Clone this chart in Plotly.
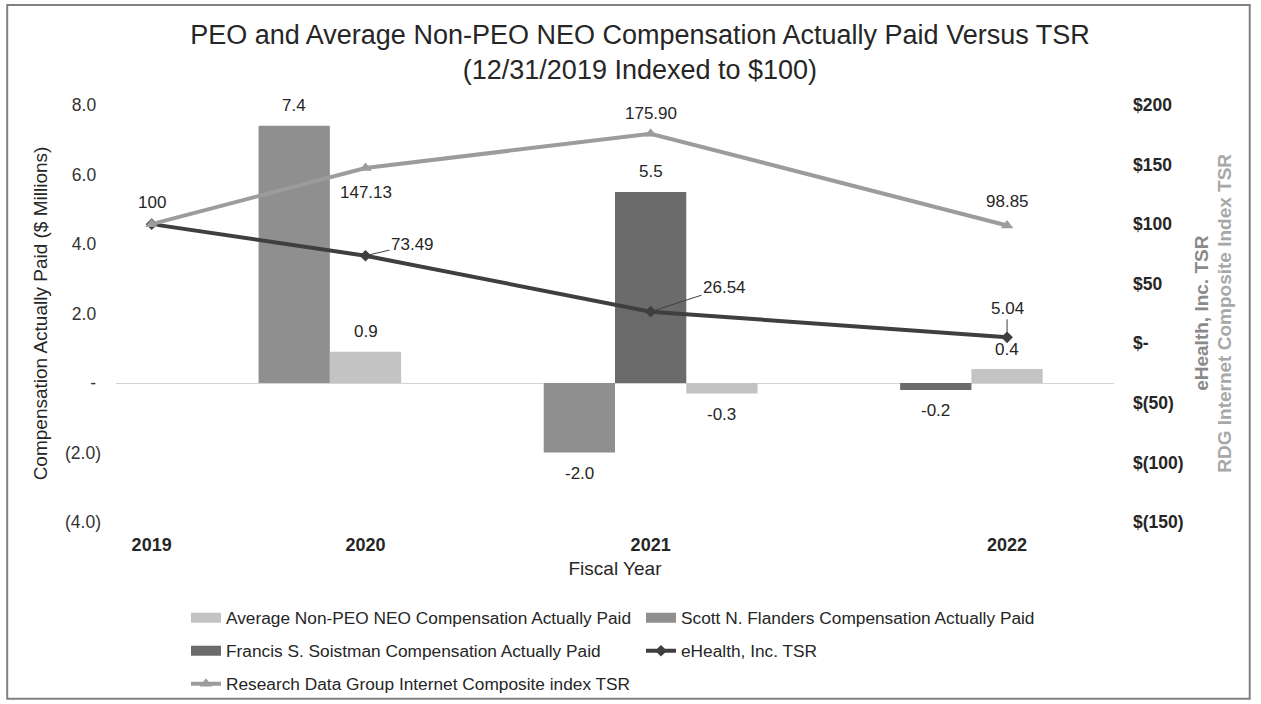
import plotly.graph_objects as go

# ---------------- data ----------------
fiscal_years = ["2019", "2020", "2021", "2022"]
# category slot of each fiscal year on the 14-slot category axis of the original chart
year_slot = [0, 3, 7, 12]

flanders_slot = [2, 6]
flanders_vals = [7.4, -2.0]

soistman_slot = [7, 11]
soistman_vals = [5.5, -0.2]

avg_slot = [3, 8, 12]
avg_vals = [0.9, -0.3, 0.4]

ehealth_tsr = [100, 73.49, 26.54, 5.04]
rdg_tsr = [100, 147.13, 175.90, 98.85]

left_tickvals = [-4, -2, 0, 2, 4, 6, 8]
left_ticktext = ["(4.0)", "(2.0)", "-\u00a0", "2.0\u00a0", "4.0\u00a0", "6.0\u00a0", "8.0\u00a0"]
right_tickvals = [-150, -100, -50, 0, 50, 100, 150, 200]
right_ticktext = ["$(150)", "$(100)", "$(50)", "$-", "$50", "$100", "$150", "$200"]

# ---------------- style ----------------
FONT = "Liberation Sans, Arial, sans-serif"
C_AVG = "#c3c3c3"
C_FLA = "#8f8f8f"
C_SOI = "#6b6b6b"
C_EH = "#3f3f3f"
C_RDG = "#9c9c9c"
TXT = "#262626"

fig = go.Figure()

def add_bars(slots, vals, color):
    fig.add_trace(go.Bar(x=slots, y=vals, width=1, marker=dict(color=color, line=dict(width=0)),
                         showlegend=False, yaxis="y", hoverinfo="y"))

add_bars(flanders_slot, flanders_vals, C_FLA)
add_bars(soistman_slot, soistman_vals, C_SOI)
add_bars(avg_slot, avg_vals, C_AVG)

fig.add_trace(go.Scatter(x=year_slot, y=ehealth_tsr, mode="lines+markers", yaxis="y2",
                         line=dict(color=C_EH, width=4), marker=dict(symbol="diamond", size=9, color=C_EH),
                         name="eHealth, Inc. TSR", legend="legend4"))
fig.add_trace(go.Scatter(x=year_slot, y=rdg_tsr, mode="lines+markers", yaxis="y2",
                         line=dict(color=C_RDG, width=4), marker=dict(symbol="triangle-up", size=11, color=C_RDG),
                         name="Research Data Group Internet Composite index TSR", legend="legend5"))

# legend proxies for bar series (wide swatches)
for name, color, lg in [("Average Non-PEO NEO Compensation Actually Paid", C_AVG, "legend"),
                        ("Scott N. Flanders Compensation Actually Paid", C_FLA, "legend2"),
                        ("Francis S. Soistman Compensation Actually Paid", C_SOI, "legend3")]:
    fig.add_trace(go.Scatter(x=[None], y=[None], mode="lines", line=dict(color=color, width=10),
                             name=name, legend=lg))

annotations = []
# bar value labels
for slots, vals in [(flanders_slot, flanders_vals), (soistman_slot, soistman_vals), (avg_slot, avg_vals)]:
    for s, v in zip(slots, vals):
        annotations.append(dict(x=s, y=v, xref="x", yref="y", text=f"{v:.1f}", showarrow=False,
                                yshift=20 if v >= 0 else -21, font=dict(size=17, color=TXT, family=FONT)))

# line labels: (series, index, style)
eh_label_style = [dict(yshift=22), dict(arrow=(47, -11)), dict(arrow=(74, -24)), dict(arrow=(0, -29))]
rdg_label_style = [None, dict(yshift=-25), dict(yshift=20), dict(yshift=24)]

def fmt(v):
    return f"{v:.0f}" if float(v).is_integer() else f"{v:.2f}"

for vals, styles in [(ehealth_tsr, eh_label_style), (rdg_tsr, rdg_label_style)]:
    for i, (v, st) in enumerate(zip(vals, styles)):
        if st is None:
            continue
        a = dict(x=year_slot[i], y=v, xref="x", yref="y2", text=fmt(v),
                 font=dict(size=17, color=TXT, family=FONT))
        if "arrow" in st:
            a.update(showarrow=True, arrowhead=0, arrowwidth=1, arrowcolor="#404040",
                     ax=st["arrow"][0], ay=st["arrow"][1], standoff=3)
        else:
            a.update(showarrow=False, yshift=st["yshift"])
        annotations.append(a)

# right axis titles
annotations.append(dict(xref="paper", yref="paper", x=1.1, y=0.5, text="<b>eHealth, Inc. TSR</b>",
                        textangle=-90, showarrow=False, font=dict(size=19, color="#8a8a8a", family=FONT)))
annotations.append(dict(xref="paper", yref="paper", x=1.123, y=0.5, text="<b>RDG Internet Composite Index TSR</b>",
                        textangle=-90, showarrow=False, font=dict(size=19, color="#a8a8a8", family=FONT)))

legend_common = dict(orientation="h", xref="container", yref="container", xanchor="left", yanchor="middle",
                     bgcolor="rgba(0,0,0,0)", font=dict(size=17.3, color=TXT, family=FONT), borderwidth=0)

fig.update_layout(
    width=1261, height=704,
    margin=dict(l=116, r=147, t=105, b=182),
    paper_bgcolor="white", plot_bgcolor="white",
    font=dict(family=FONT, color=TXT),
    barmode="overlay",
    title=dict(text="PEO and Average Non-PEO NEO Compensation Actually Paid Versus TSR<br>(12/31/2019 Indexed to $100)",
               x=0.5075, xanchor="center", xref="container", y=0.937, yanchor="top", yref="container",
               font=dict(size=27, color=TXT, family=FONT)),
    xaxis=dict(range=[-0.5, 13.5], tickvals=year_slot, ticktext=fiscal_years, showgrid=False, zeroline=False,
               showline=False, ticks="", tickfont=dict(size=18, color=TXT, family=FONT), ticklabelstandoff=10,
               title=dict(text="Fiscal Year", font=dict(size=19, color=TXT, family=FONT), standoff=7)),
    yaxis=dict(range=[-4, 8], tickvals=left_tickvals, ticktext=left_ticktext, showgrid=False,
               zeroline=True, zerolinecolor="#d4d4d4", zerolinewidth=1, showline=False, ticks="",
               tickfont=dict(size=17.5, color="#333333", family=FONT), ticklabelstandoff=14,
               title=dict(text="Compensation Actually Paid ($ Millions)", font=dict(size=19, color=TXT, family=FONT),
                          standoff=12)),
    yaxis2=dict(range=[-150, 200], tickvals=right_tickvals, ticktext=right_ticktext, overlaying="y", side="right",
                showgrid=False, zeroline=False, showline=False, ticks="",
                tickfont=dict(size=17.5, color=TXT, family=FONT, weight="bold"), ticklabelstandoff=18),
    legend=dict(legend_common, x=186 / 1261, y=1 - 618 / 704),
    legend2=dict(legend_common, x=641 / 1261, y=1 - 618 / 704),
    legend3=dict(legend_common, x=186 / 1261, y=1 - 651 / 704),
    legend4=dict(legend_common, x=641 / 1261, y=1 - 651 / 704),
    legend5=dict(legend_common, x=186 / 1261, y=1 - 684 / 704),
    annotations=annotations,
    shapes=[dict(type="rect", xref="paper", yref="paper", x0=-0.109, x1=1.136, y0=-0.424, y1=1.24,
                 line=dict(color="#808080", width=2), fillcolor="rgba(0,0,0,0)", layer="below")],
)
fig.update_xaxes(tickfont_weight="bold")

fig.write_html("out.html")
